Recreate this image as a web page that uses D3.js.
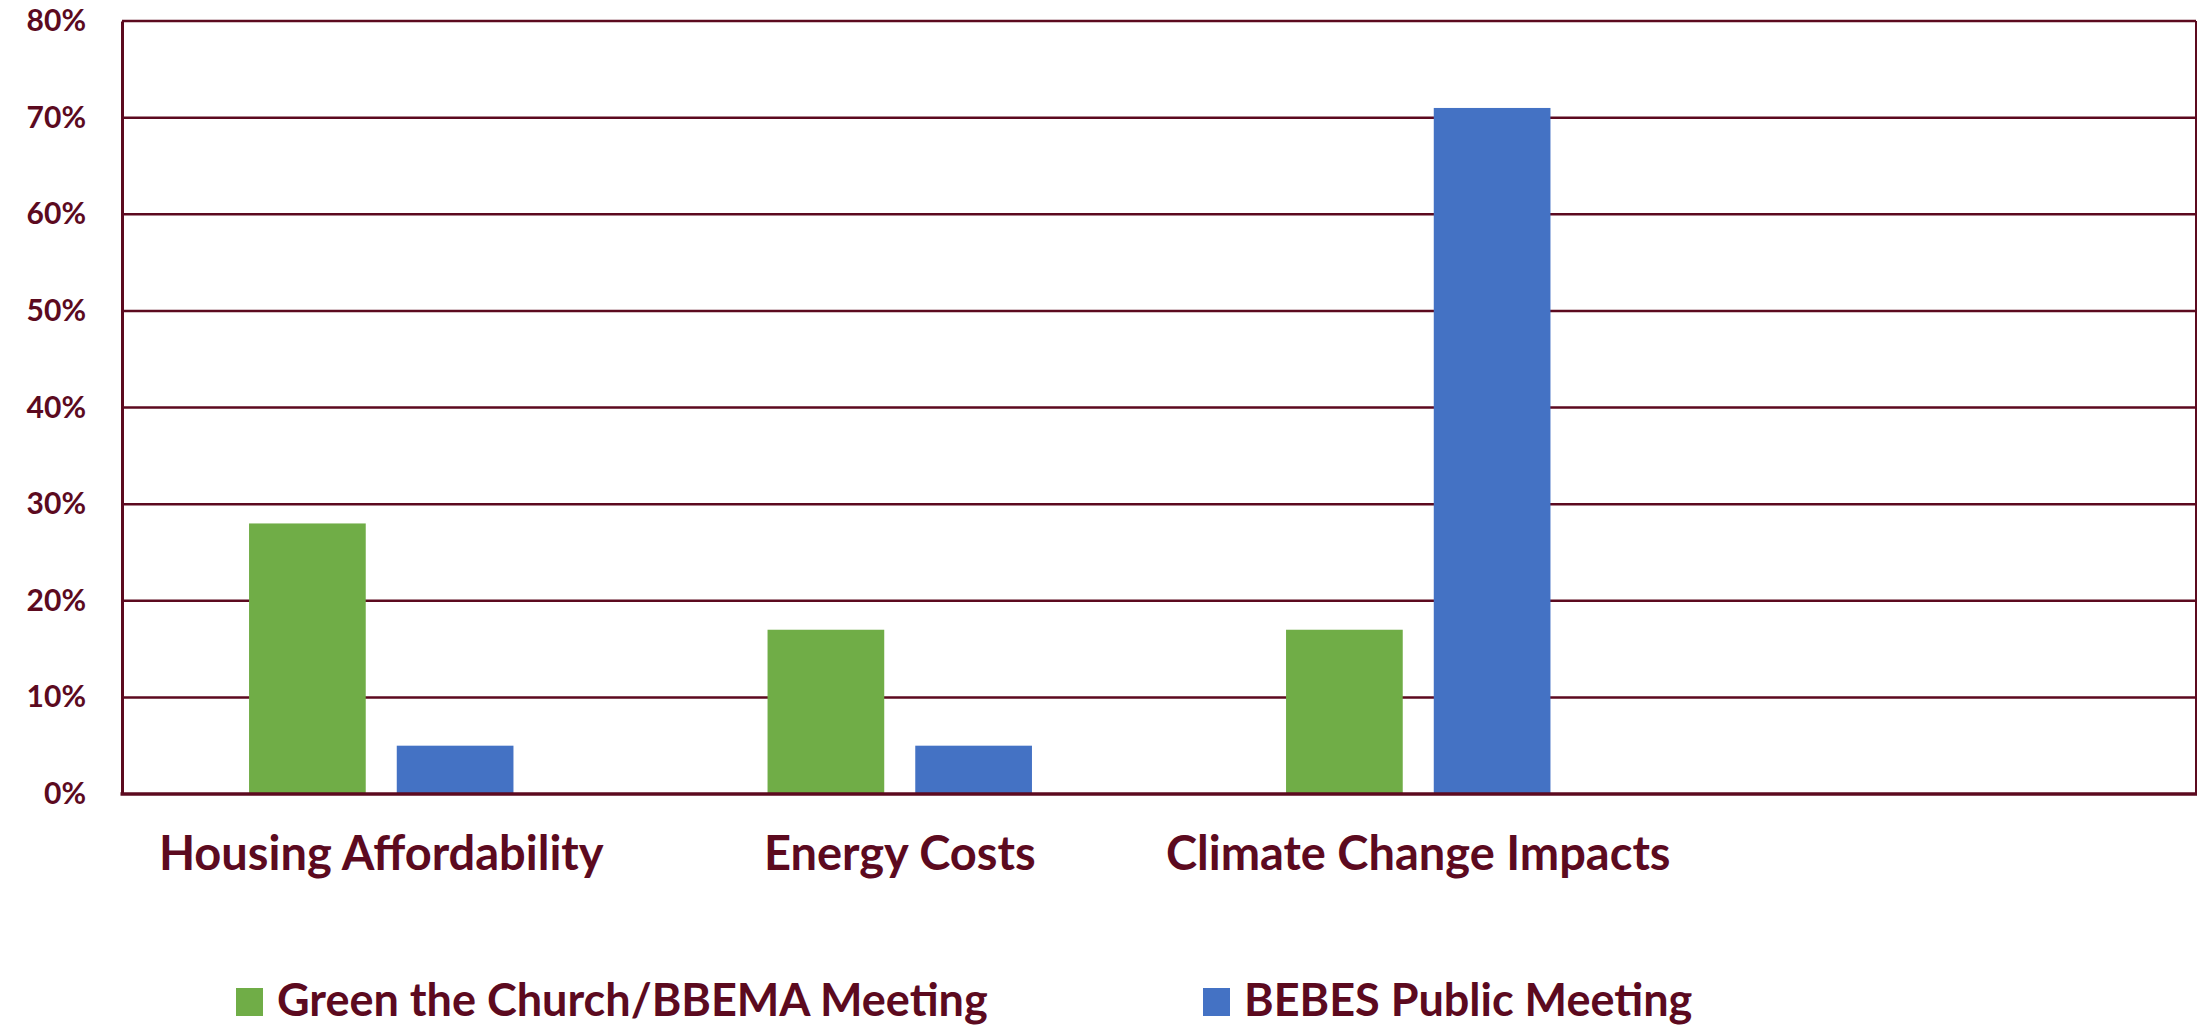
<!DOCTYPE html>
<html>
<head>
<meta charset="utf-8">
<script src="https://cdn.jsdelivr.net/npm/d3@7"></script>
<style>
  body { margin: 0; background: #fff; }
  text { font-family: Lato, "Open Sans", sans-serif; font-weight: bold; fill: #5c0a1f; }
</style>
</head>
<body>
<svg width="2206" height="1026"></svg>
<script>
const categories = ['Housing Affordability', 'Energy Costs', 'Climate Change Impacts', ''];
const seriesNames = ['Green the Church/BBEMA Meeting', 'BEBES Public Meeting'];
const greenValues = [28, 17, 17, null];
const blueValues = [5, 5, 71, null];
const yTicks = [0, 10, 20, 30, 40, 50, 60, 70, 80];

const colors = ['#70ad47', '#4472c4'];
const maroon = '#5c0a1f';

const svg = d3.select('svg');
const width = +svg.attr('width');

const margin = {top: 21, right: 10, bottom: 232, left: 122};
const plotRight = 2196;
const plotBottom = 794;

const data = categories.map((c, i) => ({
  category: c,
  values: [greenValues[i], blueValues[i]]
}));

const xScale = d3.scaleBand()
  .domain(d3.range(categories.length))
  .range([margin.left, plotRight])
  .padding(0);

const subScale = d3.scaleBand()
  .domain([0, 1])
  .range([0, xScale.bandwidth()])
  .paddingInner(0.21)
  .paddingOuter(0.86);

const yScale = d3.scaleLinear()
  .domain([0, 80])
  .range([plotBottom, margin.top]);

// gridlines
svg.append('g')
  .selectAll('line').data(yTicks.slice(1))
  .enter().append('line')
    .attr('x1', margin.left)
    .attr('x2', plotRight)
    .attr('y1', d => yScale(d))
    .attr('y2', d => yScale(d))
    .attr('stroke', maroon)
    .attr('stroke-width', 2.5);

// right border
svg.append('line')
  .attr('x1', plotRight).attr('x2', plotRight)
  .attr('y1', margin.top).attr('y2', plotBottom)
  .attr('stroke', maroon).attr('stroke-width', 2);

// bars
const groups = svg.append('g')
  .selectAll('g').data(data)
  .enter().append('g')
    .attr('transform', (d, i) => `translate(${xScale(i)},0)`);

groups.selectAll('rect')
  .data(d => d.values.map((v, j) => ({v, j})).filter(e => e.v != null))
  .enter().append('rect')
    .attr('x', e => subScale(e.j))
    .attr('y', e => yScale(e.v))
    .attr('width', subScale.bandwidth())
    .attr('height', e => plotBottom - yScale(e.v))
    .attr('fill', e => colors[e.j]);

// y axis
const yAxis = d3.axisLeft(yScale)
  .tickValues(yTicks)
  .tickFormat(d => d + '%')
  .tickSize(0)
  .tickPadding(36);

const yAxisG = svg.append('g')
  .attr('transform', `translate(${margin.left},0)`)
  .call(yAxis);
yAxisG.select('.domain')
  .attr('stroke', maroon).attr('stroke-width', 3);
yAxisG.selectAll('.tick text')
  .attr('font-size', 30)
  .attr('fill', maroon)
  .attr('font-family', 'Lato')
  .attr('font-weight', 'bold');

// x axis line
svg.append('line')
  .attr('x1', margin.left - 1.5).attr('x2', plotRight + 1)
  .attr('y1', plotBottom).attr('y2', plotBottom)
  .attr('stroke', maroon).attr('stroke-width', 3.5);

// category labels
svg.append('g')
  .selectAll('text').data(categories)
  .enter().append('text')
    .attr('x', (d, i) => xScale(i) + xScale.bandwidth() / 2)
    .attr('y', 870)
    .attr('text-anchor', 'middle')
    .attr('font-size', 47)
    .text(d => d);

// legend
const legendX = [236, 1203];
const legend = svg.append('g')
  .selectAll('g').data(seriesNames)
  .enter().append('g')
    .attr('transform', (d, i) => `translate(${legendX[i]},988)`);

legend.append('rect')
  .attr('width', 27)
  .attr('height', 28)
  .attr('fill', (d, i) => colors[i]);

legend.append('text')
  .attr('x', 41)
  .attr('y', 28)
  .attr('font-size', 45)
  .text(d => d);
</script>
</body>
</html>
